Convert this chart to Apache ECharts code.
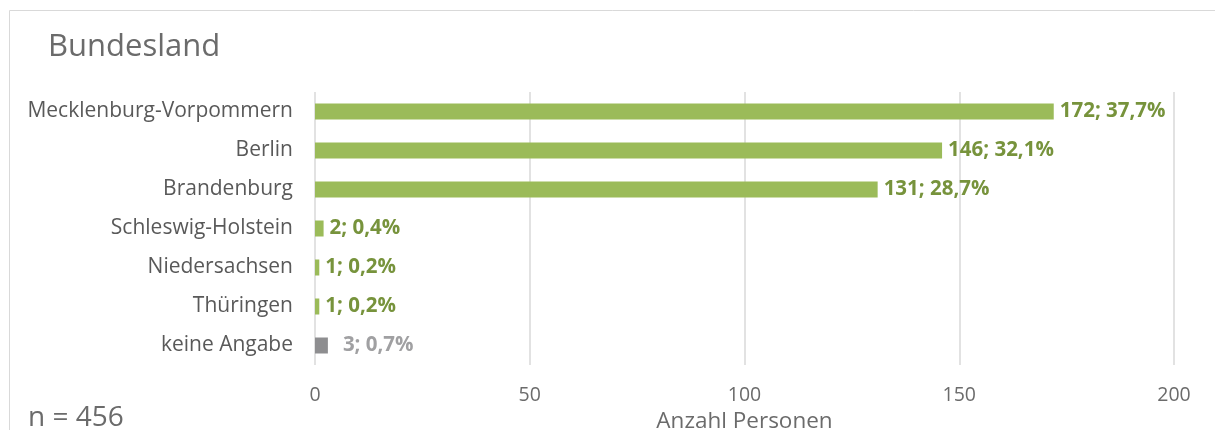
<!DOCTYPE html>
<html><head><meta charset="utf-8">
<script src="https://cdn.jsdelivr.net/npm/echarts@6/dist/echarts.min.js"></script>
<style>html,body{margin:0;padding:0;background:#fff}#c{width:1215px;height:430px}</style>
</head><body><div id="c"></div>
<script>
const categories = ["Mecklenburg-Vorpommern","Berlin","Brandenburg","Schleswig-Holstein","Niedersachsen","Thüringen","keine Angabe"];
const values = [172,146,131,2,1,1,3];
const percents = ["37,7%","32,1%","28,7%","0,4%","0,2%","0,2%","0,7%"];
const xTicks = [0,50,100,150,200];
const FONT = "'Open Sans', sans-serif";
const chart = echarts.init(document.getElementById('c'), null, {renderer:'canvas'});
const data = values.map((v,i)=>{
  const grey = categories[i]==="keine Angabe";
  return {value:v, itemStyle:{color: grey ? '#8e8e90' : '#9bbb59'},
    label:{color: grey ? '#a0a0a2' : '#77933c', distance: grey ? 15 : 6,
      formatter: v + '; ' + percents[i]}};
});
chart.setOption({
  animation:false,
  textStyle:{fontFamily:FONT},
  title:{text:'Bundesland', left:43, top:27, textStyle:{fontFamily:FONT,fontSize:31,fontWeight:'normal',color:'#6b6b6b'}},
  graphic:[
    {type:'polyline', shape:{points:[[9.5,430],[9.5,10.5],[1215,10.5]]}, style:{stroke:'#d9d9d9',lineWidth:1,fill:null}},
    {type:'text', left:28, top:404, style:{text:'n = 456', font:"28px 'Open Sans', sans-serif", fill:'#6b6b6b'}}
  ],
  grid:{left:315, right:41, top:92, bottom:65, containLabel:false, outerBoundsMode:'none'},
  xAxis:{type:'value', min:0, max:200, interval:50,
    axisLine:{show:false}, axisTick:{show:false},
    splitLine:{show:true, lineStyle:{color:'#d9d9d9', width:1.5}},
    axisLabel:{margin:20, fontSize:19.5, color:'#6b6b6b', fontFamily:FONT,
      formatter:(v)=> xTicks.includes(v) ? String(v) : ''},
    name:'Anzahl Personen', nameLocation:'middle', nameGap:41,
    nameTextStyle:{fontSize:22.5, color:'#6b6b6b', fontFamily:FONT}
  },
  yAxis:{type:'category', data:categories, inverse:true,
    axisLine:{show:false}, axisTick:{show:false},
    axisLabel:{margin:22, fontSize:21, color:'#595959', fontFamily:FONT}
  },
  series:[{type:'bar', data:data, barWidth:16,
    label:{show:true, position:'right', fontSize:20.5, fontWeight:'bold', fontFamily:FONT}
  }]
});
</script></body></html>
